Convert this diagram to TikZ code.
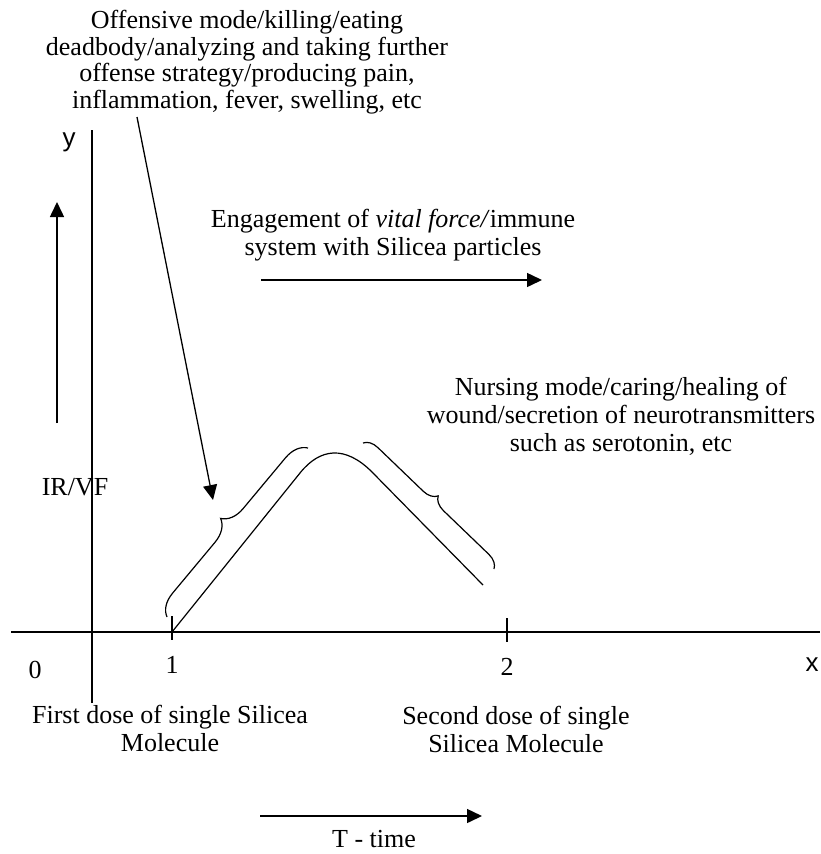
\documentclass[tikz,border=0pt]{standalone}
\usepackage{fontspec}
\setmainfont{Liberation Serif}
\newfontfamily\axisfont{Liberation Sans}
\usetikzlibrary{positioning,arrows.meta,decorations.pathreplacing}

\begin{document}
\begin{tikzpicture}[x=1pt, y=-1pt, line width=1.5pt,
    >={Triangle[length=15pt,width=14pt]},
    every node/.style={font=\fontsize{26}{28}\selectfont, align=center, inner sep=0pt},
    tight/.style={font=\fontsize{26}{26.7}\selectfont},
    axislabel/.style={font=\axisfont\fontsize{26}{28}\selectfont},
    curlybrace/.style={line width=1.2pt, decorate, decoration={brace, amplitude=#1}},
    curlybrace/.default=20pt]
    \useasboundingbox (0,0) rectangle (820,854);

    % axes
    \coordinate (xstart) at (11,632);
    \coordinate (xend) at (820,632);
    \coordinate (ytop) at (92,130);
    \coordinate (ybot) at (92,703);
    \draw (xstart) -- (xend);
    \draw (ybot) -- (ytop);

    \coordinate (dose1) at (172,632);
    \coordinate (dose2) at (507,632);
    \draw (172,616) -- (172,640);
    \draw (507,618) -- (507,642);

    \node (zero) at (35,670) {0};
    \node (one) at (172,665) {1};
    \node (two) at (507,667) {2};
    \node[axislabel] (xlab) at (812,665) {x};
    \node[axislabel] (ylab) at (69,142) {y};

    % response curve
    \draw[line width=1.2pt] (dose1) -- (300,473) .. controls (320,448) and (345,445) .. (372,472) -- (483,585);
    \draw[curlybrace=22pt] (167,617) -- (308,448);
    \draw[curlybrace=14pt] (363,443) -- (494,569);

    % texts
    \node[tight] (offense) at (247,62) {Offensive mode/killing/eating\\deadbody/analyzing and taking further\\offense strategy/producing pain,\\inflammation, fever, swelling, etc};
    \node (engage) at (393,235) {Engagement of \textit{vital force/}immune\\system with Silicea particles};
    \node (nursing) at (621,416) {Nursing mode/caring/healing of\\wound/secretion of neurotransmitters\\such as serotonin, etc};
    \node (irvf) at (75,487) {IR/VF};
    \node (first) at (170,728) {First dose of single Silicea\\Molecule};
    \node (second) at (516,729) {Second dose of single\\Silicea Molecule};
    \node (time) at (374,839) {T - time};

    % arrows
    \coordinate (offstart) at (137,117);
    \coordinate (offend) at (213,500);
    \draw[->, line width=1.3pt] (offstart) -- (offend);
    \coordinate (irlow) at (57,423);
    \coordinate (irhigh) at (57,202);
    \draw[->] (irlow) -- (irhigh);
    \coordinate (engleft) at (261,280);
    \coordinate (engright) at (542,280);
    \draw[->] (engleft) -- (engright);
    \coordinate (tleft) at (260,816);
    \coordinate (tright) at (482,816);
    \draw[->] (tleft) -- (tright);
\end{tikzpicture}
\end{document}
